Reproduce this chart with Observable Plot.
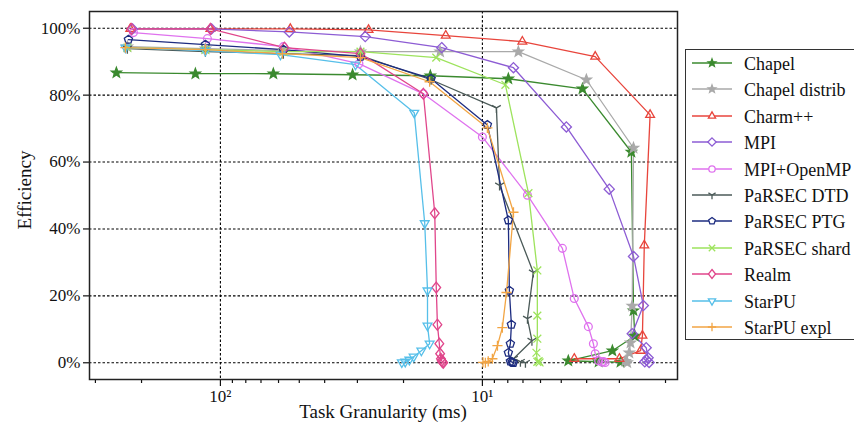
<!DOCTYPE html>
<html><head><meta charset="utf-8">
<script src="https://cdn.jsdelivr.net/npm/d3@7"></script>
<script src="https://cdn.jsdelivr.net/npm/@observablehq/plot@0.6"></script>
<style>
html,body{margin:0;padding:0;background:#fff;width:854px;height:428px;overflow:hidden;}
#wrap{position:relative;width:854px;height:428px;font-family:"Liberation Serif","Times New Roman",serif;color:#111;}
#legend{position:absolute;left:685px;top:49px;width:180px;height:291px;border:1px solid #333;box-sizing:border-box;background:#fff;}
.lrow{position:absolute;left:0;height:26px;width:180px;}
.lrow svg{position:absolute;left:0;top:0;}
.lrow span{position:absolute;left:58px;top:2px;font-size:18px;line-height:22px;white-space:nowrap;}
.axlab{position:absolute;font-size:19px;white-space:nowrap;}
</style></head><body><div id="wrap"></div>
<script>
// ---- data: [task granularity (ms), efficiency (%)] ----
const seriesNames = ["Chapel","Chapel distrib","Charm++","MPI","MPI+OpenMP","PaRSEC DTD","PaRSEC PTG","PaRSEC shard","Realm","StarPU","StarPU expl"];
const chapel = [[249.5,86.7],[124.6,86.4],[62.8,86.4],[31.3,86.1],[15.8,85.8],[7.96,84.9],[4.15,81.9],[2.70,63.0],[2.65,15.6],[2.62,8.0],[3.19,3.6],[4.70,0.6],[3.6,0.3],[2.97,0.2]];
const chapelDistrib = [[226.5,94.5],[114.1,93.9],[57.5,93.3],[29.2,93.0],[14.5,93.0],[7.29,93.0],[4.01,84.6],[2.65,64.2],[2.68,17.0],[2.72,6.0],[2.75,3.0],[2.85,0.5],[2.80,0.1]];
const charm = [[220.7,99.8],[109.2,99.8],[54.1,99.8],[27.2,99.5],[13.8,97.8],[7.04,96.0],[3.71,91.5],[2.29,74.1],[2.41,35.1],[2.45,8.1],[2.49,3.6],[3.0,1.2],[4.46,1.2]];
const mpi = [[216.8,99.8],[108.2,99.8],[54.6,98.9],[28.0,97.5],[14.3,94.2],[7.61,88.2],[4.78,70.5],[3.28,51.9],[2.65,31.8],[2.43,17.1],[2.68,8.7],[2.37,4.5],[2.33,1.5],[2.36,0.8],[2.40,0.3],[2.31,0.1]];
const mpiOpenMP = [[214.8,98.7],[112.1,96.9],[57.5,94.5],[29.6,89.4],[16.8,80.4],[10.0,67.5],[6.73,50.1],[4.95,34.2],[4.46,19.2],[3.94,10.8],[3.77,5.7],[3.71,2.7],[3.60,0.6],[3.50,0.2],[3.45,0.4],[3.40,0.1]];
const parsecDTD = [[226.5,93.9],[114.1,93.0],[57.5,92.4],[29.2,91.8],[15.7,84.6],[8.84,76.2],[8.6,53.0],[6.39,27.0],[6.73,13.2],[6.47,6.6],[7.61,1.2],[7.16,0.3],[6.85,0.0]];
const parsecPTG = [[224.5,96.6],[114.1,95.1],[57.5,93.6],[29.2,91.5],[15.7,84.9],[9.57,71.1],[7.96,42.6],[7.89,21.6],[7.75,11.4],[7.82,5.7],[7.96,3.0],[7.82,0.4],[7.70,0.2],[7.62,0.0]];
const parsecShard = [[226.5,94.2],[114.1,93.6],[57.5,93.0],[29.2,93.0],[15.0,91.2],[8.17,83.1],[6.67,50.7],[6.17,27.6],[6.17,14.1],[6.17,7.2],[6.22,3.0],[6.17,0.3],[6.10,0.5],[6.05,0.1]];
const realm = [[218.7,99.8],[109.2,99.8],[57.0,94.2],[29.2,92.4],[16.8,80.4],[15.2,44.7],[15.0,22.5],[14.85,11.4],[14.6,5.7],[14.5,2.7],[14.4,1.2],[14.3,0.6],[14.2,0.2],[14.1,0.0]];
const starpu = [[230.5,94.2],[114.1,93.3],[59.0,92.1],[30.5,89.1],[18.2,74.7],[16.6,41.7],[16.2,21.6],[16.2,11.1],[15.9,5.7],[17.1,3.6],[18.3,1.8],[19.0,0.9],[19.7,0.3],[20.3,0.1]];
const starpuExpl = [[230.5,94.2],[114.1,93.6],[58.0,92.4],[29.2,91.2],[15.9,84.0],[9.57,70.2],[7.61,45.0],[8.09,21.0],[8.39,10.5],[8.76,5.1],[9.16,1.2],[9.5,0.4],[9.74,0.0],[9.95,0.1]];
const yTicks = [0,20,40,60,80,100];
const xMajorTicks = [100,10];
const xMajorLabels = ["10²","10¹"];
const xMinorTicks = [2,3,4,5,6,7,8,9,20,30,40,50,60,70,80,90,200,300];

// ---- styles ----
const seriesColors = ["#3b8a2f","#a9a9a9","#e8453c","#8d5cd4","#df72ee","#4b5a58","#1d2c80","#9de35c","#e0468b","#56bfe9","#f2a544"];
const k = Math.PI;
const triDown = {draw(c,s){const r=Math.sqrt(s/k)*1.3;c.moveTo(0,r);c.lineTo(r*0.866,-r*0.5);c.lineTo(-r*0.866,-r*0.5);c.closePath();}};
const triUp = {draw(c,s){const r=Math.sqrt(s/k)*1.3;c.moveTo(0,-r);c.lineTo(r*0.866,r*0.5);c.lineTo(-r*0.866,r*0.5);c.closePath();}};
const pentagon = {draw(c,s){const r=Math.sqrt(s/k)*1.1;for(let i=0;i<5;i++){const a=-Math.PI/2+i*2*Math.PI/5;const x=r*Math.cos(a),y=r*Math.sin(a);i?c.lineTo(x,y):c.moveTo(x,y);}c.closePath();}};
const triY = {draw(c,s){const r=Math.sqrt(s/k)*1.3;c.moveTo(0,0);c.lineTo(0,r);c.moveTo(0,0);c.lineTo(-r*0.866,-r*0.5);c.moveTo(0,0);c.lineTo(r*0.866,-r*0.5);}};
const diamondD = {draw(c,s){const r=Math.sqrt(s/k)*1.3;c.moveTo(0,-r);c.lineTo(r,0);c.lineTo(0,r);c.lineTo(-r,0);c.closePath();}};
const diamondThin = {draw(c,s){const r=Math.sqrt(s/k)*1.4;c.moveTo(0,-r);c.lineTo(r*0.8,0);c.lineTo(0,r);c.lineTo(-r*0.8,0);c.closePath();}};
const star = {draw(c,s){const R=Math.sqrt(s/k)*1.35,r=R*0.42;for(let i=0;i<10;i++){const a=-Math.PI/2+i*Math.PI/5;const rr=i%2?r:R;const x=rr*Math.cos(a),y=rr*Math.sin(a);i?c.lineTo(x,y):c.moveTo(x,y);}c.closePath();}};
const plus = {draw(c,s){const r=Math.sqrt(s/k)*1.3;c.moveTo(-r,0);c.lineTo(r,0);c.moveTo(0,-r);c.lineTo(0,r);}};
const cross = {draw(c,s){const r=Math.sqrt(s/k)*1.0;c.moveTo(-r,-r);c.lineTo(r,r);c.moveTo(-r,r);c.lineTo(r,-r);}};
const circ = d3.symbolCircle;
const seriesSymbols = [star,star,triUp,diamondD,circ,triY,pentagon,cross,diamondThin,triDown,plus];
const seriesFilled = [true,true,false,false,false,false,false,false,false,false,false];
const seriesData = [chapel,chapelDistrib,charm,mpi,mpiOpenMP,parsecDTD,parsecPTG,parsecShard,realm,starpu,starpuExpl];

const marks = [
  Plot.gridY(yTicks,{stroke:"#000",strokeOpacity:1,strokeWidth:1.1,strokeDasharray:"2.5,2"}),
  Plot.gridX(xMajorTicks,{stroke:"#000",strokeOpacity:1,strokeWidth:1.1,strokeDasharray:"2.5,2"}),
  Plot.axisY(yTicks,{tickFormat:d=>d+"%",tickSize:6,tickPadding:3,label:null,fontSize:17,strokeWidth:1.2}),
  Plot.axisX(xMinorTicks,{tickSize:4,tickFormat:()=>"",label:null,strokeWidth:1.2}),
  Plot.axisX(xMajorTicks,{tickSize:7,tickPadding:3,tickFormat:d=>xMajorLabels[xMajorTicks.indexOf(d)],label:null,fontSize:17,strokeWidth:1.2})
];
seriesData.forEach((data,i)=>{
  marks.push(Plot.line(data,{x:d=>d[0],y:d=>d[1],stroke:seriesColors[i],strokeWidth:1.3}));
});
seriesData.forEach((data,i)=>{
  marks.push(Plot.dot(data,{x:d=>d[0],y:d=>d[1],symbol:seriesSymbols[i],r:3.9,
    stroke:seriesColors[i],fill:seriesFilled[i]?seriesColors[i]:"none",strokeWidth:1.3}));
});
marks.push(Plot.frame({stroke:"#222",strokeWidth:1.5}));

const chart = Plot.plot({
  width:854,height:428,
  marginLeft:89,marginRight:177,marginTop:11,marginBottom:49,
  x:{type:"log",domain:[316,1.8]},
  y:{domain:[-5,105]},
  style:{fontFamily:"Liberation Serif, Times New Roman, serif",fontSize:"17px",background:"#fff",color:"#111"},
  marks
});
const wrap = document.getElementById("wrap");
wrap.appendChild(chart);

// axis titles
const xl = document.createElement("div");
xl.className="axlab"; xl.textContent="Task Granularity (ms)";
xl.style.left="383px"; xl.style.top="401px"; xl.style.transform="translateX(-50%)";
wrap.appendChild(xl);
const yl = document.createElement("div");
yl.className="axlab"; yl.textContent="Efficiency";
yl.style.left="25px"; yl.style.top="190px"; yl.style.transform="translate(-50%,-50%) rotate(-90deg)";
wrap.appendChild(yl);

// legend
const leg = document.createElement("div");
leg.id="legend"; wrap.appendChild(leg);
seriesNames.forEach((name,i)=>{
  const row=document.createElement("div");
  row.className="lrow"; row.style.top=(1+i*26.4)+"px";
  const svg=d3.create("svg").attr("width",56).attr("height",26);
  svg.append("line").attr("x1",6).attr("x2",46).attr("y1",12).attr("y2",12).attr("stroke",seriesColors[i]).attr("stroke-width",1.3);
  const sym=seriesSymbols[i];
  const sz = (sym===star?3.0:3.2);
  svg.append("path").attr("transform","translate(26,12)").attr("d",d3.symbol(sym,sz*sz*Math.PI)())
    .attr("stroke",seriesColors[i]).attr("stroke-width",1.3).attr("fill",seriesFilled[i]?seriesColors[i]:"#fff");
  row.appendChild(svg.node());
  const sp=document.createElement("span"); sp.textContent=name; row.appendChild(sp);
  leg.appendChild(row);
});
</script></body></html>
